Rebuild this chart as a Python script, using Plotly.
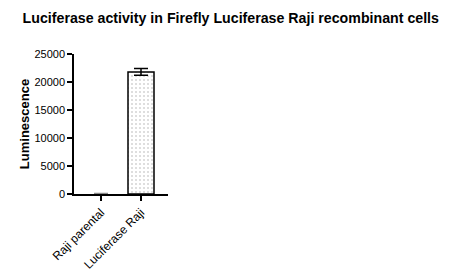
import plotly.graph_objects as go

categories = ["Raji parental", "Luciferase Raji"]
values = [40, 21800]
errors = [30, 600]
y_ticks = [0, 5000, 10000, 15000, 20000, 25000]

bar_line_colors = ["rgba(0,0,0,0)", "black"]
err_colors = ["#8a8a8a", "black"]

fig = go.Figure()
for i in range(len(categories)):
    fig.add_trace(go.Bar(
        x=[i], y=[values[i]],
        width=0.65,
        name=categories[i],
        marker=dict(
            color="white",
            line=dict(color=bar_line_colors[i], width=1.5),
            pattern=dict(shape=".", fgcolor="#a8a8a8", bgcolor="white", size=4, solidity=0.2),
        ),
        error_y=dict(type="data", array=[errors[i]], visible=True, color=err_colors[i], thickness=1.5, width=7),
    ))

fig.update_layout(
    width=457, height=274,
    barmode="overlay",
    margin=dict(l=74, r=289, t=54, b=80, autoexpand=False),
    paper_bgcolor="white", plot_bgcolor="white",
    showlegend=False,
    font=dict(family="Liberation Sans, Arial", color="black"),
    title=dict(text="<b>Luciferase activity in Firefly Luciferase Raji recombinant cells</b>",
               x=0.505, xanchor="center", y=0.935, yanchor="middle",
               font=dict(size=14.2, color="black")),
)
fig.update_xaxes(
    range=[-0.675, 1.675],
    tickmode="array", tickvals=[0, 1], ticktext=categories,
    tickangle=-45, ticks="outside", ticklen=5, tickwidth=1.5, tickcolor="black",
    showline=True, linecolor="black", linewidth=1.5,
    showgrid=False, zeroline=False, automargin=False,
    tickfont=dict(size=12),
)
fig.update_yaxes(
    range=[0, 25000],
    tickmode="array", tickvals=y_ticks, ticktext=[str(v) for v in y_ticks],
    ticks="outside", ticklen=5, tickwidth=1.5, tickcolor="black",
    showline=True, linecolor="black", linewidth=1.5,
    showgrid=False, zeroline=False, automargin=False,
    tickfont=dict(size=11),
    title=dict(text="<b>Luminescence</b>", font=dict(size=13), standoff=2),
)
fig.write_html("out.html")
